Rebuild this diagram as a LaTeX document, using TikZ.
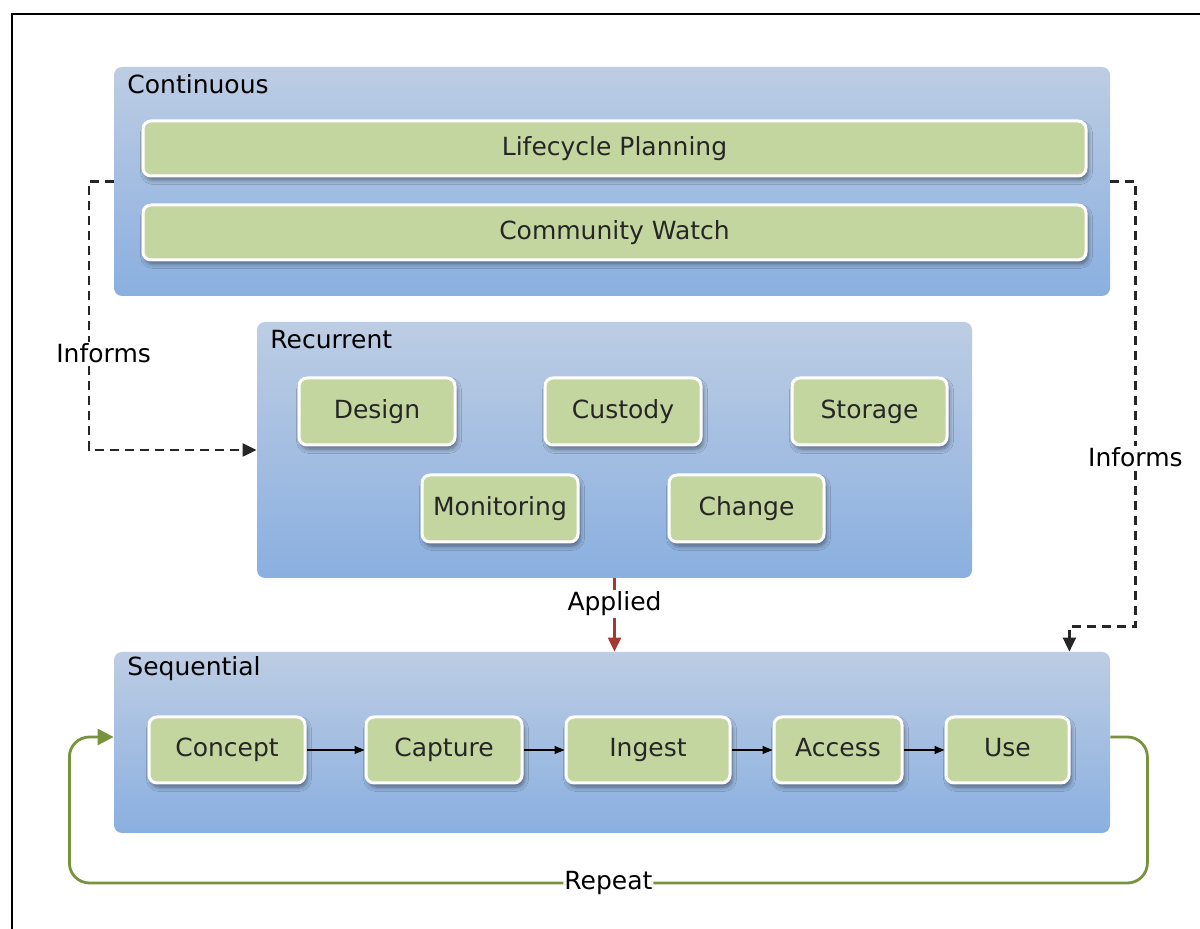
\documentclass[tikz,border=0pt]{standalone}
\usepackage{fontspec}
\setmainfont{DejaVu Sans}
\usetikzlibrary{positioning,arrows.meta,calc,shadows.blur}

\definecolor{grptop}{HTML}{BDCDE3}
\definecolor{grpbot}{HTML}{8AAFE0}
\definecolor{stagefill}{HTML}{C4D6A0}
\definecolor{repeatgreen}{HTML}{77933C}
\definecolor{appliedred}{HTML}{A33A32}
\definecolor{txtgrey}{HTML}{262626}

\tikzset{
  group/.style={rounded corners=4pt, top color=grptop, bottom color=grpbot, draw=none, inner sep=0pt},
  grplabel/.style={anchor=west, inner sep=0pt, text=black},
  stage/.style={rounded corners=4pt, fill=stagefill, draw=white, line width=1.5pt, inner sep=0pt,
    text height=9.5pt, text depth=2.5pt, text=txtgrey,
    blur shadow={shadow xshift=1pt, shadow yshift=-2pt, shadow blur steps=6, shadow opacity=45}},
  flow/.style={-{Triangle[length=5pt,width=4pt]}, line width=0.6pt, black},
  informs/.style={dash pattern=on 4.5pt off 3pt, line width=1.1pt, draw=black!85, -{Triangle[length=7pt,width=6.5pt]}},
  applied/.style={line width=1.1pt, draw=appliedred, -{Triangle[length=7pt,width=6.5pt]}},
  repeatline/.style={line width=1.4pt, draw=repeatgreen, rounded corners=10pt, -{Triangle[length=8pt,width=8pt]}},
  linelabel/.style={fill=white, inner sep=1pt, text=black}
}

\begin{document}
\begin{tikzpicture}[x=0.5pt, y=-0.5pt, font=\fontsize{12.5}{15}\selectfont]
  \useasboundingbox (0,0) rectangle (1200,929);
  \clip (0,0) rectangle (1200,929);
  \draw[line width=1pt] (12,14) rectangle (1240,960);

  % continuous
  \node[group, minimum width=498pt, minimum height=114.5pt] (cont) at (612,181.5) {};
  \node[grplabel] at (127,84) {Continuous};
  \node[stage, minimum width=471.5pt, minimum height=27.5pt] (plan) at (614.5,148.5) {Lifecycle Planning};
  \node[stage, minimum width=471.5pt, minimum height=27.5pt] (watch) at (614.5,232.5) {Community Watch};

  % recurrent
  \node[group, minimum width=357.5pt, minimum height=128pt] (rec) at (614.5,450) {};
  \node[grplabel] at (270,340) {Recurrent};
  \node[stage, minimum width=78pt, minimum height=33.5pt] (design) at (377,411.5) {Design};
  \node[stage, minimum width=78pt, minimum height=33.5pt] (custody) at (623,411.5) {Custody};
  \node[stage, minimum width=77.5pt, minimum height=33.5pt] (storage) at (869.5,411.5) {Storage};
  \node[stage, minimum width=78pt, minimum height=33.5pt] (monitor) at (500,508.5) {Monitoring};
  \node[stage, minimum width=77.5pt, minimum height=33.5pt] (change) at (746.5,508.5) {Change};

  % sequential
  \node[group, minimum width=498pt, minimum height=90.5pt] (seq) at (612,742.5) {};
  \node[grplabel] at (127,669) {Sequential};
  \node[stage, minimum width=78pt, minimum height=33pt] (concept) at (227,750) {Concept};
  \node[stage, minimum width=78pt, minimum height=33pt] (capture) at (444,750) {Capture};
  \node[stage, minimum width=82pt, minimum height=33pt] (ingest) at (648,750) {Ingest};
  \node[stage, minimum width=64pt, minimum height=33pt] (access) at (838,750) {Access};
  \node[stage, minimum width=61.5pt, minimum height=33pt] (use) at (1007.5,750) {Use};
  \foreach \a/\b in {concept/capture, capture/ingest, ingest/access, access/use}
    \draw[flow] (\a) -- (\b);

  % links between groups
  \draw[informs] (cont.west) -- ++(-25,0) |- node[linelabel, pos=0.32, xshift=7.5pt] {Informs} (rec.west);
  \draw[informs] (cont.east) -- ++(25,0) |- node[linelabel, pos=0.31] {Informs}
    ([xshift=-20.5pt, yshift=12.5pt]seq.north east) -- ([xshift=-20.5pt]seq.north east);
  \draw[applied] (rec.south) -- node[linelabel, pos=0.35] {Applied} (rec.south |- seq.north);
  \draw[repeatline] ([yshift=2.75pt]seq.east) -- ++(37,0) -- ++(0,146)
    -- node[linelabel, inner sep=0.5pt] {Repeat} ++(-1078,0) -- ++(0,-146) -- ([yshift=2.75pt]seq.west);
\end{tikzpicture}
\end{document}
